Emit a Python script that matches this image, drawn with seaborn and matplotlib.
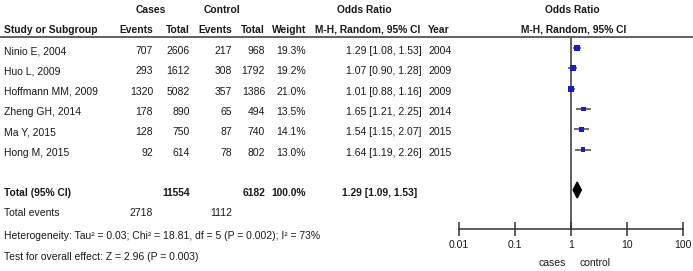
# Forest plot: cases vs control, odds ratios (M-H, random effects)
import numpy as np
import pandas as pd
import matplotlib
matplotlib.use("Agg")
import matplotlib.pyplot as plt
import seaborn as sns

# Study data
studies = ["Ninio E, 2004", "Huo L, 2009", "Hoffmann MM, 2009",
           "Zheng GH, 2014", "Ma Y, 2015", "Hong M, 2015"]
cases_events = [707, 293, 1320, 178, 128, 92]
cases_total = [2606, 1612, 5082, 890, 750, 614]
ctrl_events = [217, 308, 357, 65, 87, 78]
ctrl_total = [968, 1792, 1386, 494, 740, 802]
weights = [19.3, 19.2, 21.0, 13.5, 14.1, 13.0]
odds = [1.29, 1.07, 1.01, 1.65, 1.54, 1.64]
ci_low = [1.08, 0.90, 0.88, 1.21, 1.15, 1.19]
ci_high = [1.53, 1.28, 1.16, 2.25, 2.07, 2.26]
years = [2004, 2009, 2009, 2014, 2015, 2015]

# Pooled result
pooled_or, pooled_low, pooled_high = 1.29, 1.09, 1.53
sum_cases_total, sum_ctrl_total = 11554, 6182
sum_cases_events, sum_ctrl_events = 2718, 1112
total_weight = 100.0
axis_ticks = [0.01, 0.1, 1, 10, 100]
tick_labels = ["0.01", "0.1", "1", "10", "100"]

sns.set_style("white")
plt.rcParams["font.family"] = ["Liberation Sans", "DejaVu Sans"]

W, H = 693, 271
fig = plt.figure(figsize=(W / 100, H / 100), dpi=100)

# text layer in pixel units
ax_t = fig.add_axes([0, 0, 1, 1])
ax_t.set_xlim(0, W)
ax_t.set_ylim(H, 0)
ax_t.axis("off")

fs = 7.5
fb = 7.4
txt = "#1a1a1a"

# row positions (pixel units)
row0, row_step = 48, 20.3
row_y = [row0 + i * row_step for i in range(len(studies))]
total_y = 190
dy = 3  # text sits a bit lower than the marks

# headers
ax_t.text(151, 10, "Cases", ha="center", va="center", fontsize=fb, fontweight="bold", color=txt)
ax_t.text(222, 10, "Control", ha="center", va="center", fontsize=fb, fontweight="bold", color=txt)
ax_t.text(364, 10, "Odds Ratio", ha="center", va="center", fontsize=fb, fontweight="bold", color=txt)
ax_t.text(572, 10, "Odds Ratio", ha="center", va="center", fontsize=fb, fontweight="bold", color=txt)
ax_t.text(4, 30, "Study or Subgroup", ha="left", va="center", fontsize=fb, fontweight="bold", color=txt)
for xr, lab in [(153, "Events"), (190, "Total"), (232, "Events"), (265, "Total"), (306, "Weight")]:
    ax_t.text(xr, 30, lab, ha="right", va="center", fontsize=fb, fontweight="bold", color=txt)
ax_t.text(315, 30, "M-H, Random, 95% CI", ha="left", va="center", fontsize=fb, fontweight="bold", color=txt)
ax_t.text(428, 30, "Year", ha="left", va="center", fontsize=fb, fontweight="bold", color=txt)
ax_t.text(574, 30, "M-H, Random, 95% CI", ha="center", va="center", fontsize=fb, fontweight="bold", color=txt)
ax_t.plot([0, W], [37, 37], color="#555555", lw=1.3)

# study rows
for i, y in enumerate(row_y):
    yt = y + dy
    ax_t.text(4, yt, studies[i], ha="left", va="center", fontsize=fs, color=txt)
    ax_t.text(153, yt, str(cases_events[i]), ha="right", va="center", fontsize=fs, color=txt)
    ax_t.text(190, yt, str(cases_total[i]), ha="right", va="center", fontsize=fs, color=txt)
    ax_t.text(232, yt, str(ctrl_events[i]), ha="right", va="center", fontsize=fs, color=txt)
    ax_t.text(265, yt, str(ctrl_total[i]), ha="right", va="center", fontsize=fs, color=txt)
    ax_t.text(306, yt, f"{weights[i]:.1f}%", ha="right", va="center", fontsize=fs, color=txt)
    ax_t.text(346, yt, f"{odds[i]:.2f} [{ci_low[i]:.2f}, {ci_high[i]:.2f}]",
              ha="left", va="center", fontsize=fs, color=txt)
    ax_t.text(428, yt, str(years[i]), ha="left", va="center", fontsize=fs, color=txt)

# totals
yt = total_y + dy
ax_t.text(4, yt, "Total (95% CI)", ha="left", va="center", fontsize=fb, fontweight="bold", color=txt)
ax_t.text(190, yt, str(sum_cases_total), ha="right", va="center", fontsize=fb, fontweight="bold", color=txt)
ax_t.text(265, yt, str(sum_ctrl_total), ha="right", va="center", fontsize=fb, fontweight="bold", color=txt)
ax_t.text(306, yt, f"{total_weight:.1f}%", ha="right", va="center", fontsize=fb, fontweight="bold", color=txt)
ax_t.text(342, yt, f"{pooled_or:.2f} [{pooled_low:.2f}, {pooled_high:.2f}]",
          ha="left", va="center", fontsize=fb, fontweight="bold", color=txt)
ax_t.text(4, 213, "Total events", ha="left", va="center", fontsize=fs, color=txt)
ax_t.text(153, 213, str(sum_cases_events), ha="right", va="center", fontsize=fs, color=txt)
ax_t.text(232, 213, str(sum_ctrl_events), ha="right", va="center", fontsize=fs, color=txt)
ax_t.text(4, 236, "Heterogeneity: Tau\u00b2 = 0.03; Chi\u00b2 = 18.81, df = 5 (P = 0.002); I\u00b2 = 73%",
          ha="left", va="center", fontsize=fs, color=txt)
ax_t.text(4, 257, "Test for overall effect: Z = 2.96 (P = 0.003)",
          ha="left", va="center", fontsize=fs, color=txt)
ax_t.text(552, 263, "cases", ha="center", va="center", fontsize=fs, color=txt)
ax_t.text(595, 263, "control", ha="center", va="center", fontsize=fs, color=txt)

# forest panel: log scale 0.01..100
fx0, fx1, fy0, fy1 = 459, 683, 38, 229
ax_f = fig.add_axes([fx0 / W, (H - fy1) / H, (fx1 - fx0) / W, (fy1 - fy0) / H])
ax_f.patch.set_alpha(0)
ax_f.set_xscale("log")
ax_f.set_xlim(0.01, 100)
ax_f.set_ylim(fy1, fy0)

df = pd.DataFrame({"study": studies, "or": odds, "lo": ci_low, "hi": ci_high,
                   "weight": weights, "y": row_y})
ax_f.hlines(df["y"], df["lo"], df["hi"], color="#555555", lw=1.2, zorder=2)
sns.scatterplot(data=df, x="or", y="y", size="weight", sizes=(11, 19), size_norm=(13.0, 21.0),
                marker="s", color="#1c1cc4", linewidth=0, legend=False, ax=ax_f, zorder=3)
ax_f.fill([pooled_low, pooled_or, pooled_high, pooled_or],
          [total_y, total_y - 8, total_y, total_y + 8], color="black", zorder=3)
ax_f.axvline(1, color="#333333", lw=1.1, zorder=1)

for s in ["top", "right", "left"]:
    ax_f.spines[s].set_visible(False)
ax_f.spines["bottom"].set_color("#333333")
ax_f.spines["bottom"].set_linewidth(1.1)
ax_f.set_xticks(axis_ticks)
ax_f.set_xticklabels(tick_labels)
ax_f.xaxis.set_minor_locator(matplotlib.ticker.NullLocator())
ax_f.tick_params(axis="x", direction="inout", length=10, width=1.1, color="#333333",
                 labelsize=fs, labelcolor=txt, pad=3, bottom=True)
ax_f.set_yticks([])
ax_f.set_xlabel("")
ax_f.set_ylabel("")

fig.savefig("out.png", dpi=100)
